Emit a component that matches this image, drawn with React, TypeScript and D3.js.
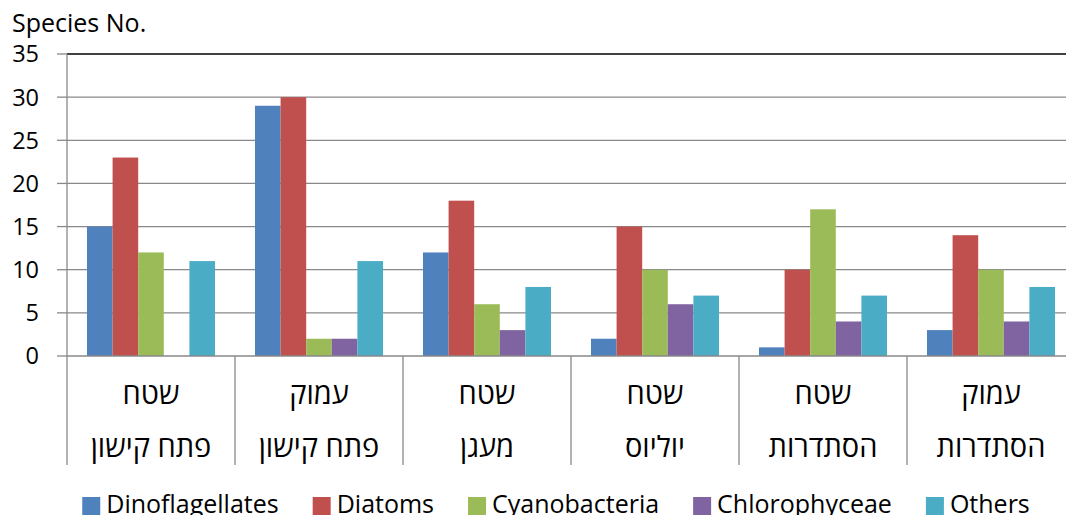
import React, { useEffect, useRef } from "react";
import * as d3 from "d3";

const categories = [
  ["שטח", "פתח קישון"],
  ["עמוק", "פתח קישון"],
  ["שטח", "מעגן"],
  ["שטח", "יוליוס"],
  ["שטח", "הסתדרות"],
  ["עמוק", "הסתדרות"],
];
const seriesNames = ["Dinoflagellates", "Diatoms", "Cyanobacteria", "Chlorophyceae", "Others"];
const seriesColors = ["#4F81BD", "#C0504D", "#9BBB59", "#8064A2", "#4BACC6"];
const dinoflagellates = [15, 29, 12, 2, 1, 3];
const diatoms = [23, 30, 18, 15, 10, 14];
const cyanobacteria = [12, 2, 6, 10, 17, 10];
const chlorophyceae = [0, 2, 3, 6, 4, 4];
const others = [11, 11, 8, 7, 7, 8];
const seriesValues = [dinoflagellates, diatoms, cyanobacteria, chlorophyceae, others];
const yTicks = [0, 5, 10, 15, 20, 25, 30, 35];
const yTitle = "Species No.";

const W = 1066;
const H = 515;
const left = 67;
const right = 1075;
const top = 54;
const bottom = 356;
const labelBottom = 465;
const FONT = "'Open Sans', 'DejaVu Sans', sans-serif";

export default function App() {
  const legendRef = useRef<SVGGElement>(null);
  const idx = categories.map((_, i) => String(i));
  const x = d3.scaleBand<string>().domain(idx).range([left, right]).paddingInner(0).paddingOuter(0);
  const xi = d3
    .scaleBand<string>()
    .domain(seriesNames)
    .range([0, x.bandwidth()])
    .paddingInner(0)
    .paddingOuter(0.78);
  const y = d3.scaleLinear().domain([0, 35]).range([bottom, top]);

  useEffect(() => {
    const g = d3.select(legendRef.current);
    if (!g.node()) return;
    const items = g.selectAll<SVGGElement, unknown>("g.item").nodes();
    const sq = 18, gap1 = 6, gap2 = 34;
    const widths = items.map((n) => (n.querySelector("text") as SVGTextElement).getComputedTextLength());
    const total = widths.reduce((a, w) => a + sq + gap1 + w, 0) + gap2 * (items.length - 1);
    let cx = 556 - total / 2;
    items.forEach((n, i) => {
      d3.select(n).attr("transform", `translate(${cx},0)`);
      cx += sq + gap1 + widths[i] + gap2;
    });
  }, []);

  return (
    <svg width={W} height={H} style={{ position: "absolute", left: 0, top: 0, background: "#fff" }} fontFamily={FONT}>
      <text x={12} y={32} fontSize={25} fill="#000">{yTitle}</text>
      {yTicks.map((t) => (
        <g key={t}>
          {t > 0 && t < 35 && (
            <line x1={left} x2={right} y1={y(t)} y2={y(t)} stroke="#898989" strokeWidth={1.3} />
          )}
          <line x1={57} x2={left} y1={y(t)} y2={y(t)} stroke="#898989" strokeWidth={1.3} />
          <text x={39} y={y(t)} dy="0.36em" textAnchor="end" fontSize={23.5} fill="#000">{t}</text>
        </g>
      ))}
      <line x1={left} x2={right} y1={top} y2={top} stroke="#000" strokeWidth={1.6} />
      <line x1={left} x2={left} y1={top} y2={bottom} stroke="#898989" strokeWidth={1.3} />
      {categories.map((c, i) => (
        <g key={i} transform={`translate(${x(String(i))},0)`}>
          {seriesNames.map((s, j) => {
            const v = seriesValues[j][i];
            return (
              <rect
                key={s}
                x={xi(s)}
                y={y(v)}
                width={xi.bandwidth()}
                height={bottom - y(v)}
                fill={seriesColors[j]}
              />
            );
          })}
          <text x={x.bandwidth() / 2} y={404} textAnchor="middle" fontSize={29} fill="#000" direction="rtl">{c[0]}</text>
          <text x={x.bandwidth() / 2} y={457} textAnchor="middle" fontSize={29} fill="#000" direction="rtl">{c[1]}</text>
        </g>
      ))}
      <line x1={left} x2={right} y1={bottom} y2={bottom} stroke="#898989" strokeWidth={1.5} />
      {d3.range(categories.length + 1).map((i) => {
        const bx = i < categories.length ? (x(String(i)) as number) : right;
        return <line key={i} x1={bx} x2={bx} y1={bottom} y2={labelBottom} stroke="#898989" strokeWidth={1.3} />;
      })}
      <g ref={legendRef}>
        {seriesNames.map((s, j) => (
          <g className="item" key={s}>
            <rect x={0} y={497} width={18} height={18} fill={seriesColors[j]} />
            <text x={24} y={513} fontSize={25} fill="#000">{s}</text>
          </g>
        ))}
      </g>
    </svg>
  );
}
